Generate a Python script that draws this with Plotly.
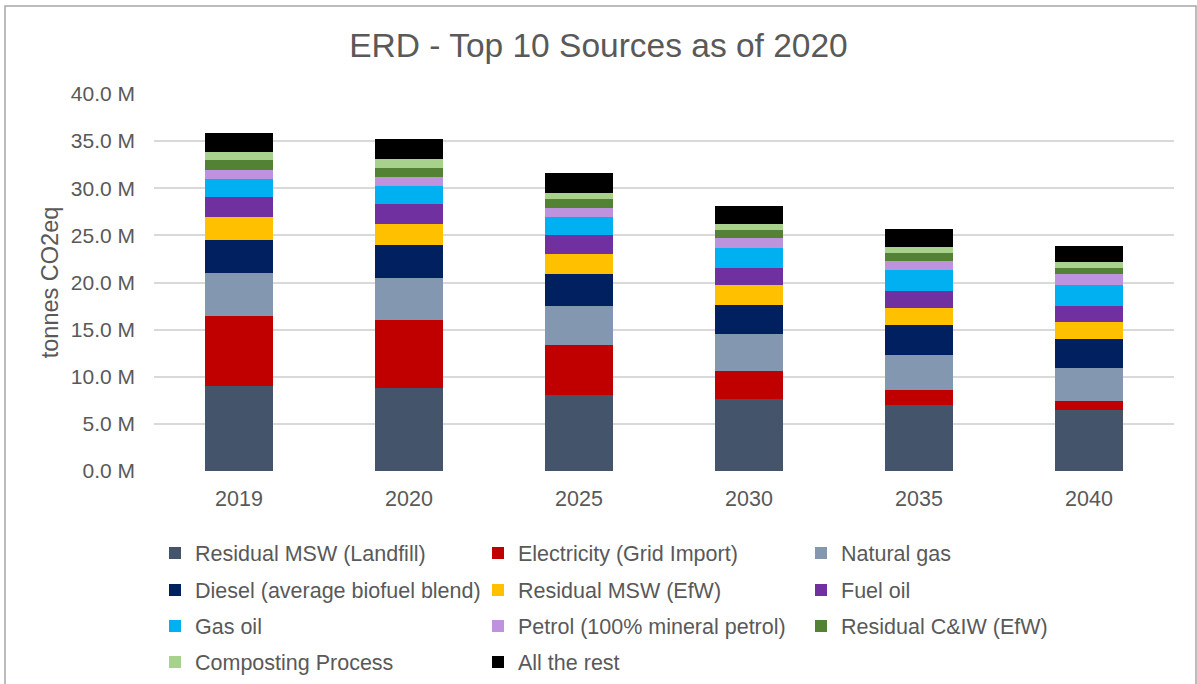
import plotly.graph_objects as go

# Emission sources (million tonnes CO2eq) by year
years = ["2019", "2020", "2025", "2030", "2035", "2040"]

residual_msw_landfill = [9.00, 8.85, 8.11, 7.64, 7.05, 6.52]
electricity_grid = [7.46, 7.12, 5.31, 2.94, 1.59, 0.88]
natural_gas = [4.50, 4.52, 4.10, 3.93, 3.64, 3.58]
diesel = [3.57, 3.44, 3.33, 3.15, 3.16, 3.03]
residual_msw_efw = [2.44, 2.29, 2.19, 2.09, 1.86, 1.81]
fuel_oil = [2.10, 2.09, 1.95, 1.84, 1.85, 1.74]
gas_oil = [1.91, 1.95, 1.94, 2.08, 2.19, 2.19]
petrol = [0.99, 0.95, 0.99, 1.07, 0.95, 1.10]
residual_ciw_efw = [1.00, 0.99, 0.89, 0.78, 0.89, 0.70]
composting = [0.85, 0.86, 0.70, 0.74, 0.60, 0.64]
all_the_rest = [2.08, 2.12, 2.06, 1.91, 1.85, 1.70]

y_ticks = [0, 5, 10, 15, 20, 25, 30, 35, 40]
y_tick_labels = [f"{v:.1f} M" for v in y_ticks]

series = [
    ("Residual MSW (Landfill)", residual_msw_landfill, "#44546A", "legend"),
    ("Electricity (Grid Import)", electricity_grid, "#C00000", "legend"),
    ("Natural gas", natural_gas, "#8497B0", "legend"),
    ("Diesel (average biofuel blend)", diesel, "#002060", "legend2"),
    ("Residual MSW (EfW)", residual_msw_efw, "#FFC000", "legend2"),
    ("Fuel oil", fuel_oil, "#7030A0", "legend2"),
    ("Gas oil", gas_oil, "#00B0F0", "legend3"),
    ("Petrol (100% mineral petrol)", petrol, "#BE93DE", "legend3"),
    ("Residual C&IW (EfW)", residual_ciw_efw, "#548235", "legend3"),
    ("Composting Process", composting, "#A9D18E", "legend4"),
    ("All the rest", all_the_rest, "#000000", "legend4"),
]

FONT = "Liberation Sans, Arial, sans-serif"
TEXT = "#595959"

W, H = 1197, 684
ML, MR, MT, MB = 154, 23, 94, 213
plot_w = W - ML - MR
plot_h = H - MT - MB

def px_to_paper_x(px):
    return (px - ML) / plot_w

def px_to_paper_y(py):
    return (H - MB - py) / plot_h

fig = go.Figure()
for name, vals, color, leg in series:
    fig.add_trace(go.Bar(
        x=years, y=vals, name=name, legend=leg,
        marker=dict(color=color, line=dict(width=0)),
        hovertemplate="%{x}: %{y:.2f} M<extra>" + name + "</extra>",
    ))

legend_rows = [553, 590, 626, 662]
legend_common = dict(
    orientation="h",
    xanchor="left",
    yanchor="middle",
    x=px_to_paper_x(155),
    entrywidth=278,
    entrywidthmode="pixels",
    font=dict(family=FONT, size=21.5, color=TEXT),
    bgcolor="rgba(0,0,0,0)",
    traceorder="normal",
)

fig.update_layout(
    width=W, height=H,
    margin=dict(l=ML, r=MR, t=MT, b=MB, pad=0, autoexpand=False),
    paper_bgcolor="white",
    plot_bgcolor="white",
    barmode="stack",
    bargap=0.6,
    title=dict(
        text="ERD - Top 10 Sources as of 2020",
        font=dict(family=FONT, size=33.5, color=TEXT),
        x=0.5, xanchor="center",
        y=1 - 45 / H, yanchor="middle",
    ),
    font=dict(family=FONT, color=TEXT),
    xaxis=dict(
        type="category",
        showgrid=False,
        showline=False,
        ticks="",
        tickfont=dict(family=FONT, size=21.5, color=TEXT),
        ticklabelstandoff=12,
        automargin=False,
    ),
    yaxis=dict(
        range=[0, 40],
        tickvals=y_ticks,
        ticktext=y_tick_labels,
        showgrid=True,
        gridcolor="#D9D9D9",
        gridwidth=1.5,
        zeroline=False,
        showline=False,
        ticks="",
        tickfont=dict(family=FONT, size=21, color=TEXT),
        ticklabelstandoff=18,
        automargin=False,
        title=dict(text="tonnes CO2eq",
                   font=dict(family=FONT, size=23.5, color=TEXT),
                   standoff=5),
    ),
    legend=dict(legend_common, y=px_to_paper_y(legend_rows[0])),
    legend2=dict(legend_common, y=px_to_paper_y(legend_rows[1])),
    legend3=dict(legend_common, y=px_to_paper_y(legend_rows[2])),
    legend4=dict(legend_common, y=px_to_paper_y(legend_rows[3])),
    shapes=[dict(
        type="rect", xref="paper", yref="paper",
        x0=px_to_paper_x(5), x1=px_to_paper_x(1196),
        y0=px_to_paper_y(700), y1=px_to_paper_y(6),
        line=dict(color="#A6A6A6", width=1.5),
        fillcolor="rgba(0,0,0,0)", layer="below",
    )],
)

fig.write_html("out.html")
